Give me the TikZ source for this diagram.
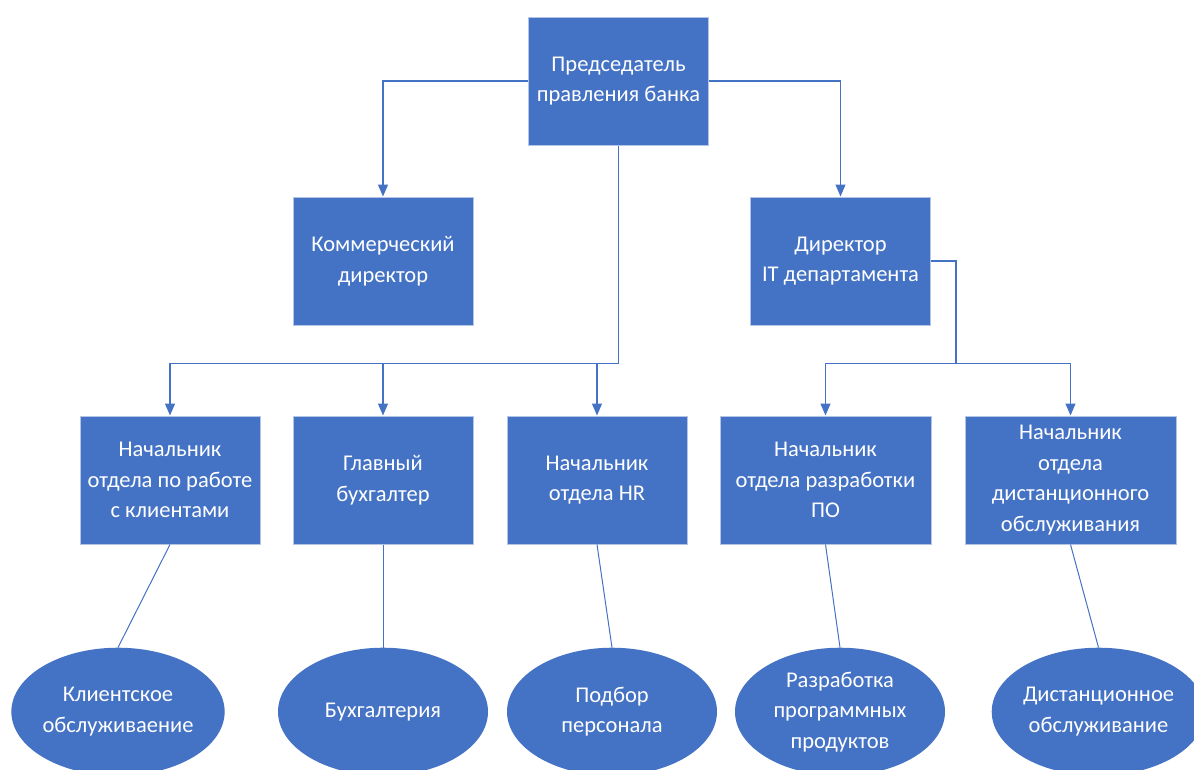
\documentclass[tikz,border=0pt]{standalone}
\usepackage{fontspec}
\setmainfont{Carlito}
\usetikzlibrary{positioning, arrows.meta, shapes.geometric, calc}
\definecolor{officeblue}{HTML}{4472C4}
\definecolor{edgeblue}{HTML}{B4C4E6}

\begin{document}
\begin{tikzpicture}[
  font=\fontsize{22.5}{30.5}\selectfont,
  >={Triangle[length=12pt, width=10pt]},
  unit/.style={rectangle, draw=edgeblue, line width=1pt, fill=officeblue, text=white, align=center, inner sep=2pt, minimum width=180pt, minimum height=128pt},
  wideunit/.style={unit, minimum width=211pt},
  task/.style={ellipse, fill=officeblue, text=white, align=center, inner sep=0pt, minimum width=210pt, minimum height=128pt},
  arr/.style={->, draw=officeblue, line width=1.2pt},
  link/.style={draw=officeblue, line width=1.2pt},
]
\useasboundingbox (0,0) rectangle (1194pt,-769pt);

% ---- top management ----
\node[unit] (chair) at (618.5pt,-81pt) {Председатель\\правления банка};
\node[unit, below left=51pt and 54.5pt of chair] (comm) {Коммерческий\\директор};
\node[unit, below right=51pt and 41pt of chair] (itdir) {Директор\\IT департамента};
\draw[arr] (chair.west) -| (comm.north);
\draw[arr] (chair.east) -| (itdir.north);

% ---- heads of departments ----
\node[unit, below=90pt of comm] (acct) {Главный\\бухгалтер};
\node[unit, left=32pt of acct] (clients) {Начальник\\отдела по работе\\с клиентами};
\node[unit, right=33pt of acct] (hr) {Начальник\\отдела HR};
\node[wideunit, right=32pt of hr] (dev) {Начальник\\отдела разработки\\ПО};
\node[wideunit, right=33pt of dev] (remote) {Начальник\\отдела\\дистанционного\\обслуживания};

% chairman's bus
\coordinate[below=218pt of chair.south] (busA);
\draw[link] (chair.south) -- (busA);
\foreach \n in {clients, acct, hr}
  \draw[arr] (busA) -| (\n.north);

% IT director's bus
\coordinate[right=25pt of itdir.east] (itbend);
\coordinate (busB) at (itbend |- busA);
\draw[link] (itdir.east) -- (itbend) -- (busB);
\foreach \n in {dev, remote}
  \draw[arr] (busB) -| (\n.north);

% ---- functions ----
\node[task, below=103pt of clients, xshift=-52pt] (fclients) {Клиентское\\обслуживаение};
\node[task, below=103pt of acct] (facct) {Бухгалтерия};
\node[task, below=103pt of hr, xshift=15pt] (fhr) {Подбор\\персонала};
\node[task, below=103pt of dev, xshift=14.5pt] (fdev) {Разработка\\программных\\продуктов};
\node[task, below=103pt of remote, xshift=28pt] (fremote) {Дистанционное\\обслуживание};

\foreach \a/\b in {clients/fclients, acct/facct, hr/fhr, dev/fdev, remote/fremote}
  \draw[link, line width=1pt] (\a.south) -- (\b.north);

\end{tikzpicture}
\end{document}
